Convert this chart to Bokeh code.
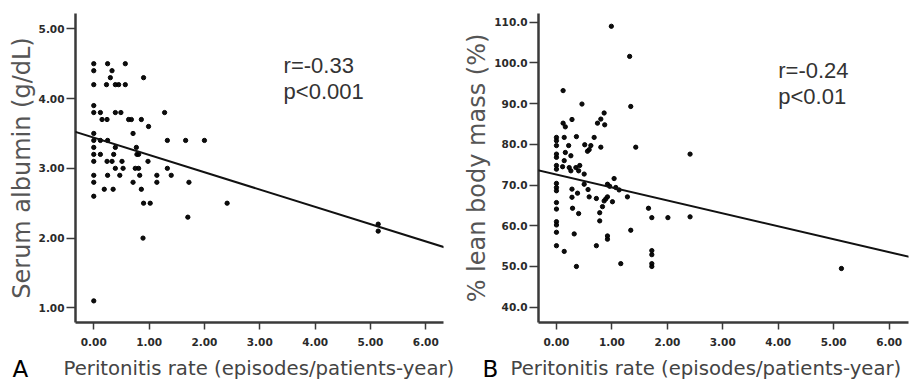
from bokeh.plotting import figure
from bokeh.layouts import row, column
from bokeh.models import Range1d, FixedTicker, Label, Slope, ColumnDataSource
from bokeh.embed import file_html
from bokeh.resources import INLINE

# ---------------- Panel A data: Serum albumin ----------------
a_rate = [0, 0, 0, 0, 0, 0, 0, 0, 0, 0, 0, 0, 0, 0,
          0.12, 0.12, 0.12, 0.15, 0.24, 0.24, 0.25, 0.25, 0.25, 0.33, 0.33, 0.30,
          0.23, 0.39, 0.39, 0.39, 0.39, 0.45, 0.49, 0.57, 0.57, 0.36, 0.51, 0.53,
          0.47, 0.19, 0.35, 0.63, 0.68, 0.71, 0.71, 0.86, 0.86, 0.90, 0.90, 0.99,
          0.77, 0.78, 0.81, 0.81, 0.75, 0.83, 1.02, 0.89, 0.98, 1.14, 1.14, 1.28,
          1.33, 1.33, 1.40, 1.66, 1.72, 1.70, 2.00, 2.41, 5.14, 5.14]
a_albumin = [4.5, 4.4, 4.2, 3.9, 3.8, 3.5, 3.4, 3.3, 3.2, 3.1, 2.9, 2.8, 2.6, 1.1,
             3.8, 3.4, 3.2, 3.7, 3.7, 3.1, 4.5, 3.4, 2.9, 4.4, 3.1, 4.3,
             4.2, 4.2, 3.8, 3.3, 3.0, 4.2, 3.8, 4.2, 4.5, 3.2, 3.1, 3.0,
             2.9, 2.7, 2.7, 3.7, 3.7, 3.5, 2.8, 3.7, 2.7, 4.3, 2.5, 3.6,
             3.3, 3.2, 3.2, 3.0, 3.0, 2.9, 2.5, 2.0, 3.1, 2.9, 2.8, 3.8,
             3.4, 3.0, 2.9, 3.4, 2.8, 2.3, 3.4, 2.5, 2.2, 2.1]
a_fit = {"gradient": -0.248, "intercept": 3.44}
a_stats = ["r=-0.33", "p<0.001"]
a_y_ticks = [1.0, 2.0, 3.0, 4.0, 5.0]
a_y_labels = ["1.00", "2.00", "3.00", "4.00", "5.00"]

# ---------------- Panel B data: % lean body mass ----------------
b_rate = [0] * 16 + [
    0.12, 0.12, 0.16, 0.14, 0.16, 0.14, 0.11, 0.22, 0.26, 0.23, 0.26, 0.28,
    0.36, 0.35, 0.40, 0.42, 0.46, 0.50, 0.51, 0.56, 0.59, 0.62, 0.68, 0.50,
    0.57, 0.59, 0.28, 0.28, 0.29, 0.38, 0.40, 0.32, 0.36, 0.14, 0.74, 0.80,
    0.86, 0.87, 0.80, 0.72, 0.78, 0.78, 0.72, 0.83, 0.86, 0.89, 0.92, 0.92,
    0.96, 1.01, 1.04, 1.07, 1.13, 0.92, 0.92, 0.99, 1.16, 1.28, 1.32, 1.34,
    1.34, 1.43, 1.66, 1.72, 1.72, 1.72, 1.72, 1.72, 2.01, 2.41, 2.41, 5.14]
b_lbm = [81.7, 80.9, 79.7, 77.6, 76.8, 74.8, 73.9, 70.4, 69.4, 68.6, 65.7, 64.1,
         61.0, 60.2, 58.4, 55.1] + [
    93.2, 85.2, 84.3, 81.7, 78.0, 76.0, 74.5, 79.7, 77.2, 74.3, 73.5, 86.1,
    81.9, 74.3, 73.5, 74.8, 89.9, 72.7, 79.9, 78.3, 78.7, 79.7, 81.7, 70.2,
    68.9, 67.1, 69.0, 67.0, 64.3, 68.0, 63.0, 58.0, 50.0, 53.7, 85.2, 86.2,
    87.7, 84.8, 79.3, 66.7, 63.2, 61.2, 55.1, 64.7, 66.1, 66.6, 67.1, 70.2,
    69.7, 65.9, 71.6, 69.4, 68.8, 57.5, 56.7, 109.0, 50.7, 67.1, 101.6, 89.3,
    58.9, 79.3, 64.3, 62.0, 53.9, 52.9, 50.7, 50.0, 62.0, 77.6, 62.2, 49.5]
b_fit = {"gradient": -3.18, "intercept": 72.6}
b_stats = ["r=-0.24", "p<0.01"]
b_y_ticks = [40, 50, 60, 70, 80, 90, 100, 110]
b_y_labels = ["40.0", "50.0", "60.0", "70.0", "80.0", "90.0", "100.0", "110.0"]

x_ticks = [0, 1, 2, 3, 4, 5, 6]
x_labels = ["0.00", "1.00", "2.00", "3.00", "4.00", "5.00", "6.00"]
x_title = "Peritonitis rate (episodes/patients-year)"
panel_letters = ["A", "B"]

AXIS_COLOR = "#3a3a3a"
TICK_FONT = "DejaVu Sans"
LABEL_FONT = "DejaVu Sans"

MAIN_H = 352
CAPTION_H = 28


def make_panel(xs, ys, fit, stats, stat_pos, yticks, ylabels, ytitle,
               x_rng, y_rng, borders, ylab_standoff):
    left, right, top, bottom = borders
    p = figure(width=455, height=MAIN_H, output_backend="svg", toolbar_location=None,
               title=None,
               x_range=Range1d(*x_rng), y_range=Range1d(*y_rng),
               min_border_left=left, min_border_right=right,
               min_border_top=top, min_border_bottom=bottom)
    p.outline_line_color = None
    p.grid.visible = False
    p.background_fill_color = "white"
    p.border_fill_color = "white"

    for ax in (p.xaxis[0], p.yaxis[0]):
        ax.axis_line_color = AXIS_COLOR
        ax.axis_line_width = 2.5
        ax.major_tick_line_color = AXIS_COLOR
        ax.major_tick_line_width = 1.5
        ax.minor_tick_line_color = None
        ax.major_tick_in = 0
        ax.major_label_text_font = TICK_FONT
        ax.major_label_text_font_style = "bold"
        ax.major_label_text_font_size = "10.5px"
        ax.major_label_text_color = "#2a2a2a"

    p.xaxis.ticker = FixedTicker(ticks=x_ticks)
    p.xaxis.major_label_overrides = dict(zip(x_ticks, x_labels))
    p.xaxis.major_tick_out = 7
    p.xaxis.major_label_standoff = 8

    p.yaxis.ticker = FixedTicker(ticks=yticks)
    p.yaxis.major_label_overrides = dict(zip(yticks, ylabels))
    p.yaxis.major_tick_out = 9
    p.yaxis.major_label_standoff = 2
    p.yaxis.axis_label = ytitle
    p.yaxis.axis_label_text_font = LABEL_FONT
    p.yaxis.axis_label_text_font_style = "normal"
    p.yaxis.axis_label_text_font_size = "24px"
    p.yaxis.axis_label_text_color = "#555555"
    p.yaxis.axis_label_standoff = ylab_standoff

    src = ColumnDataSource(dict(x=xs, y=ys))
    p.scatter("x", "y", source=src, size=4.3, color="black", alpha=0.95)

    p.add_layout(Slope(gradient=fit["gradient"], y_intercept=fit["intercept"],
                       line_color="#111111", line_width=2))

    sx, sy1, sy2 = stat_pos
    for txt, yy in zip(stats, (sy1, sy2)):
        p.add_layout(Label(x=sx, y=yy, text=txt, text_font="Liberation Sans",
                           text_font_size="22px", text_color="#333333",
                           text_baseline="alphabetic"))
    return p


pa = make_panel(a_rate, a_albumin, a_fit, a_stats, (3.43, 4.48, 4.10),
                a_y_ticks, a_y_labels, "Serum albumin (g/dL)",
                (-0.33, 6.32), (0.79, 5.22), (75, 12, 13, 30), 0)
pb = make_panel(b_rate, b_lbm, b_fit, b_stats, (4.0, 98.1, 91.8),
                b_y_ticks, b_y_labels, "% lean body mass (%)",
                (-0.324, 6.35), (36.24, 112.14), (83, 2, 13, 30), 0)

# caption strip holding the panel letters and x-axis titles
cap = figure(width=910, height=CAPTION_H, output_backend="svg", toolbar_location=None,
             title=None,
             x_range=Range1d(0, 910), y_range=Range1d(0, CAPTION_H),
             x_axis_type=None, y_axis_type=None,
             min_border_left=0, min_border_right=0, min_border_top=0, min_border_bottom=0)
cap.outline_line_color = None
cap.grid.visible = False
for letter, lx, tx in zip(panel_letters, (12, 482), (63, 510)):
    cap.add_layout(Label(x=lx, y=12, text=letter, text_font=LABEL_FONT,
                         text_font_size="23px", text_color="black",
                         text_baseline="alphabetic"))
    cap.add_layout(Label(x=tx, y=12, text=x_title, text_font=LABEL_FONT,
                         text_font_size="19.7px", text_color="#444444",
                         text_baseline="alphabetic"))

layout = column(row(pa, pb), cap)
open("out.html", "w").write(file_html(layout, INLINE))
